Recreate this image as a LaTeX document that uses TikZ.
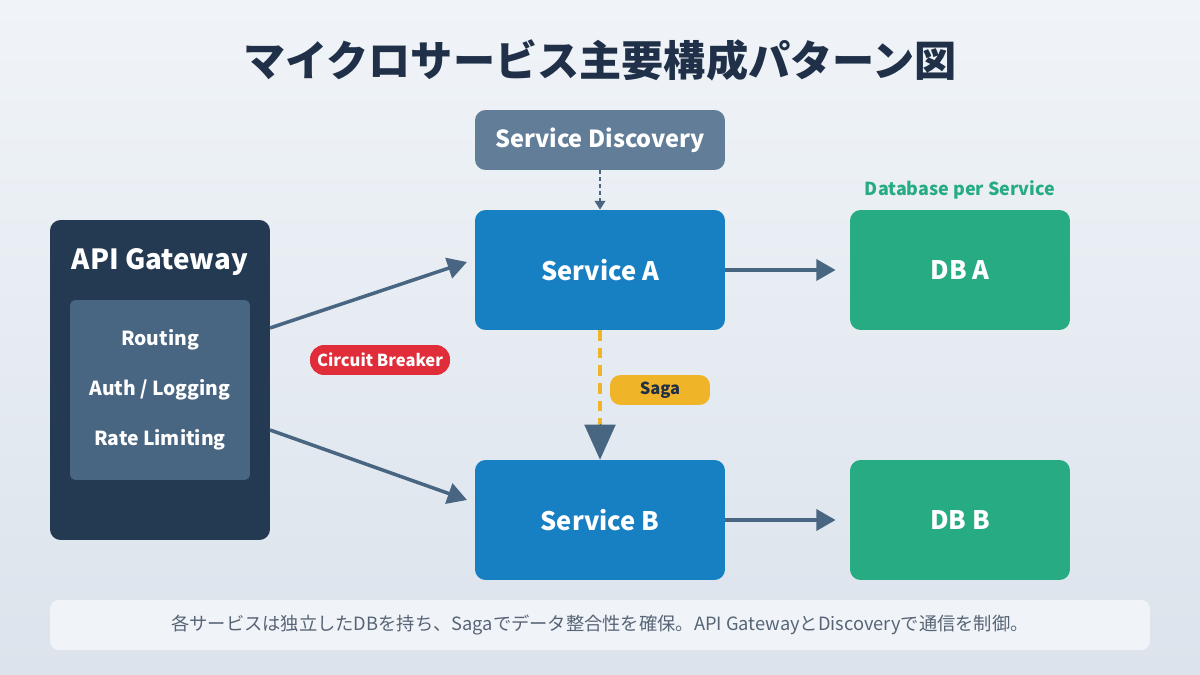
\documentclass[tikz,border=0pt]{standalone}
\usepackage{fontspec}
\setmainfont{Noto Sans CJK JP}
\usetikzlibrary{arrows.meta,positioning}
\definecolor{navy}{HTML}{1F3048}
\definecolor{slate}{HTML}{627D98}
\definecolor{svc}{HTML}{1780C2}
\definecolor{dbgreen}{HTML}{27AB83}
\definecolor{gwdark}{HTML}{243A52}
\definecolor{gwinner}{HTML}{486581}
\definecolor{arr}{HTML}{486581}
\definecolor{sagaor}{HTML}{F0B429}
\definecolor{cbred}{HTML}{E12D39}
\definecolor{bgtop}{HTML}{F0F4F8}
\definecolor{bgbot}{HTML}{DCE3EC}
\tikzset{
	box/.style = {rounded corners = 6pt, text = white, font = \bfseries\fontsize{14.5}{17}\selectfont, inner sep = 0pt},
	service/.style = {box, fill = svc, minimum width = 5cm, minimum height = 2.4cm},
	db/.style = {box, fill = dbgreen, minimum width = 4.4cm, minimum height = 2.4cm},
	flow/.style = {-{Triangle[length=11pt,width=12pt]}, draw = arr, line width = 2pt},
	tag/.style = {rounded corners = 6pt, inner sep = 0pt, font = \bfseries\fontsize{9.4}{11}\selectfont},
	item/.style = {text = white, font = \bfseries\fontsize{11}{13}\selectfont}
}
\begin{document}
\begin{tikzpicture}[x=0.02cm,y=-0.02cm]
	\shade [top color = bgtop, bottom color = bgbot] (0,0) rectangle (1200,675);
	\useasboundingbox (0,0) rectangle (1200,675);

	\node (title) [text = navy, font = \bfseries\fontsize{24}{28}\selectfont] at (600,60) {マイクロサービス主要構成パターン図};

	% gateway
	\node (gw) [box, fill = gwdark, minimum width = 4.4cm, minimum height = 6.4cm] at (160,380) {};
	\node (gwtitle) [text = white, font = \bfseries\fontsize{15.8}{19}\selectfont] at (160,262) {API Gateway};
	\node (gwin) [rounded corners = 3pt, fill = gwinner, minimum width = 3.6cm, minimum height = 3.6cm] at (160,390) {};
	\node (routing) [item] at (160,340) {Routing};
	\node (auth) [item] at (160,390) {Auth / Logging};
	\node (rate) [item] at (160,440) {Rate Limiting};

	% services
	\node (disc) [box, fill = slate, minimum width = 5cm, minimum height = 1.2cm, font = \bfseries\fontsize{13.4}{16}\selectfont] at (600,140) {Service Discovery};
	\node (sa) [service] at (600,270) {Service A};
	\node (sb) [service] at (600,520) {Service B};
	\node (dba) [db] at (960,270) {DB A};
	\node (dbb) [db] at (960,520) {DB B};
	\node (dbnote) [text = dbgreen, font = \bfseries\fontsize{10.2}{12}\selectfont] at (960,190) {Database per Service};

	\coordinate (gwA) at (270,328);
	\coordinate (gwB) at (270,430);
	\coordinate (inA) at (467,262);
	\coordinate (inB) at (467,500);
	\draw [flow] (gwA) -- (inA);
	\draw [flow] (gwB) -- (inB);
	\draw [flow] (sa.east) -- ([xshift=-8pt]dba.west);
	\draw [flow] (sb.east) -- ([xshift=-8pt]dbb.west);
	\draw [-{Triangle[length=5pt,width=6pt]}, draw = arr, line width = 1pt, dash pattern = on 2pt off 2pt] (disc.south) -- (sa.north);
	\draw [sagaor, line width = 2.5pt, dash pattern = on 6pt off 4pt] (sa.south) -- (600,425);
	\draw [-{Triangle[length=20pt,width=18pt]}, draw = arr, line width = 0pt] (600,425) -- (sb.north);

	\node (saga) [tag, fill = sagaor, text = navy, minimum width = 2cm, minimum height = 0.6cm] at (660,390) {Saga};
	\node (cb) [tag, fill = cbred, text = white, rounded corners = 8pt, minimum width = 2.8cm, minimum height = 0.6cm] at (380,360) {Circuit Breaker};

	% note
	\node (note) [rounded corners = 5pt, fill = bgtop, minimum width = 22cm, minimum height = 1cm, text = navy!75, font = \fontsize{10.4}{12}\selectfont] at (600,625) {各サービスは独立したDBを持ち、Sagaでデータ整合性を確保。API GatewayとDiscoveryで通信を制御。};
\end{tikzpicture}
\end{document}
